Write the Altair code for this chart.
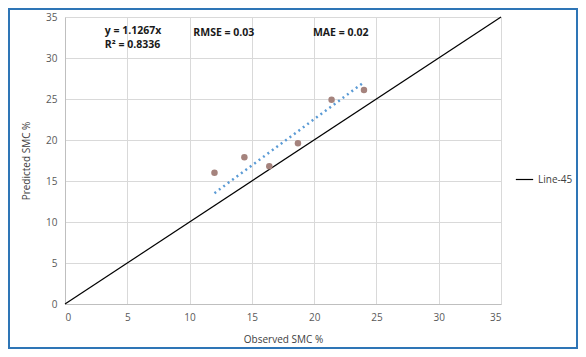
import altair as alt
import pandas as pd

observed = [12.0, 14.4, 16.4, 18.7, 21.4, 24.0]
predicted = [16.0, 17.9, 16.8, 19.6, 24.9, 26.1]
slope = 1.1267
trend_x = [12.0, 24.0]
line45 = [0, 35]
ticks = [0, 5, 10, 15, 20, 25, 30, 35]

W, H = 436, 287
PL, PT, PR, PB = 57, 9, 77, 45

pts = pd.DataFrame({"x": observed, "y": predicted})
trend = pd.DataFrame({"x": trend_x, "y": [slope * v for v in trend_x]})
ref = pd.DataFrame({"x": line45, "y": line45, "s": ["Line-45"] * 2})

xs = alt.Scale(domain=[0, 35], nice=False)
ys = alt.Scale(domain=[0, 35], nice=False)

xax = alt.Axis(values=ticks, title="Observed SMC %", grid=True, ticks=False,
               labelColor="#595959", labelFontSize=10, labelPadding=8,
               titleColor="#404040", titleFontSize=10, titleFontWeight="normal",
               titlePadding=12, domainColor="#bfbfbf", gridColor="#d9d9d9")
yax = alt.Axis(values=ticks, title="Predicted SMC %", grid=True, ticks=False,
               labelColor="#595959", labelFontSize=10, labelPadding=8,
               titleColor="#404040", titleFontSize=10, titleFontWeight="normal",
               titlePadding=14, domainColor="#bfbfbf", gridColor="#d9d9d9")

base_line = alt.Chart(ref).mark_line(strokeWidth=1.2).encode(
    x=alt.X("x:Q", scale=xs, axis=xax),
    y=alt.Y("y:Q", scale=ys, axis=yax),
    color=alt.Color("s:N", scale=alt.Scale(domain=["Line-45"], range=["black"]),
                    legend=alt.Legend(title=None, orient="none", legendX=450, legendY=153,
                                      symbolType="stroke", symbolSize=300, symbolStrokeWidth=1.2,
                                      labelColor="#404040", labelFontSize=10,
                                      labelFont="Open Sans")),
)

trend_line = alt.Chart(trend).mark_line(color="#5B9BD5", strokeWidth=2.5,
                                        strokeDash=[2, 3.5]).encode(
    x=alt.X("x:Q", scale=xs), y=alt.Y("y:Q", scale=ys))

points = alt.Chart(pts).mark_circle(size=42, color="#A5837D", opacity=1).encode(
    x=alt.X("x:Q", scale=xs), y=alt.Y("y:Q", scale=ys))

labels = pd.DataFrame({
    "x": [3.2, 3.2, 10.3, 19.9],
    "y": [33.25, 31.55, 33.1, 33.1],
    "t": ["y = 1.1267x", "R² = 0.8336", "RMSE = 0.03", "MAE = 0.02"],
})
texts = alt.Chart(labels).mark_text(align="left", baseline="middle", fontSize=10.5,
                                    fontWeight="bold", font="Open Sans",
                                    color="#1a1a1a").encode(
    x=alt.X("x:Q", scale=xs), y=alt.Y("y:Q", scale=ys), text="t:N")

border = alt.Chart(pd.DataFrame({"a": [0]})).mark_rect(
    fill=None, stroke="#2E75B6", strokeWidth=2).encode(
    x=alt.value(-PL + 1), x2=alt.value(W + PR - 1),
    y=alt.value(-PT + 1), y2=alt.value(H + PB - 1))

chart = alt.layer(border, base_line, trend_line, points, texts).properties(
    width=W, height=H,
    autosize=alt.AutoSizeParams(type="none"),
    padding={"left": PL, "top": PT, "right": PR, "bottom": PB},
    background="white",
).configure_view(stroke=None).configure_axis(
    labelFont="Open Sans", titleFont="Open Sans")

chart.save("out.html", embed_options={"renderer": "svg", "actions": False})
